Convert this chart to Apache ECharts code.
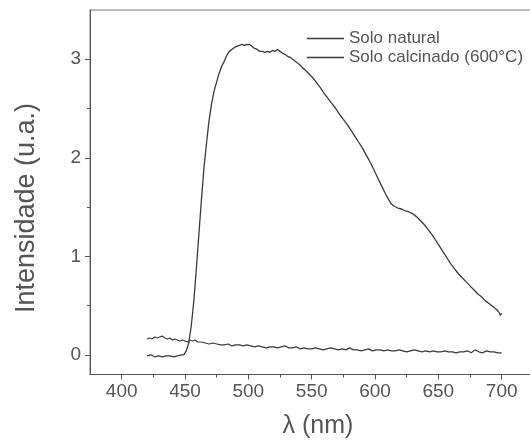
<!DOCTYPE html>
<html>
<head>
<meta charset="utf-8" />
<script src="https://cdn.jsdelivr.net/npm/echarts@6/dist/echarts.min.js"></script>
<style>
  html, body { margin: 0; padding: 0; background: #fff; }
  #chart { width: 530px; height: 444px; }
</style>
</head>
<body>
<div id="chart"></div>
<script>
// Solo calcinado (600°C)
const calcWl = [420, 423, 426, 429, 432, 435, 438, 441, 444, 447, 449, 451, 453, 455, 457, 459, 461, 463, 465, 467, 469, 471, 473, 475, 477, 479, 481, 483, 485, 487, 489, 491, 493, 495, 497, 499, 501, 503, 505, 507, 509, 511, 513, 515, 517, 519, 521, 523, 525, 527, 529, 531, 533, 535, 537, 539, 541, 543, 545, 548, 551, 554, 557, 560, 563, 566, 569, 572, 575, 578, 581, 584, 587, 590, 593, 596, 599, 602, 605, 608, 611, 613, 615, 618, 621, 624, 627, 630, 633, 636, 639, 642, 645, 648, 651, 654, 657, 660, 663, 666, 669, 672, 675, 678, 681, 684, 687, 690, 693, 696, 698, 699, 700];
const calcInt = [-0.01, 0.0, -0.02, -0.01, -0.02, -0.01, -0.01, -0.02, -0.01, 0.0, 0.0, 0.04, 0.12, 0.30, 0.55, 0.88, 1.23, 1.58, 1.90, 2.15, 2.38, 2.55, 2.68, 2.77, 2.86, 2.93, 2.98, 3.04, 3.08, 3.10, 3.12, 3.13, 3.14, 3.15, 3.14, 3.15, 3.15, 3.13, 3.11, 3.10, 3.08, 3.08, 3.07, 3.08, 3.07, 3.09, 3.08, 3.10, 3.08, 3.06, 3.05, 3.03, 3.02, 3.00, 2.98, 2.96, 2.94, 2.91, 2.89, 2.85, 2.81, 2.76, 2.71, 2.65, 2.60, 2.55, 2.50, 2.44, 2.39, 2.34, 2.28, 2.22, 2.16, 2.10, 2.03, 1.96, 1.88, 1.80, 1.72, 1.64, 1.57, 1.53, 1.51, 1.49, 1.48, 1.46, 1.45, 1.43, 1.40, 1.36, 1.32, 1.27, 1.22, 1.16, 1.10, 1.04, 0.98, 0.92, 0.87, 0.82, 0.78, 0.74, 0.70, 0.66, 0.62, 0.59, 0.55, 0.52, 0.49, 0.46, 0.43, 0.40, 0.42];

// Solo natural
const natWl = [420, 422, 424, 426, 428, 430, 432, 434, 436, 438, 440, 442, 444, 446, 448, 450, 452, 454, 456, 458, 460, 463, 466, 469, 472, 475, 478, 481, 484, 487, 490, 493, 496, 499, 502, 505, 508, 511, 514, 517, 520, 523, 526, 529, 532, 535, 538, 541, 544, 547, 550, 553, 556, 559, 562, 565, 568, 571, 574, 577, 580, 583, 586, 589, 592, 595, 598, 601, 604, 607, 610, 613, 616, 619, 622, 625, 628, 631, 634, 637, 640, 643, 646, 649, 652, 655, 658, 661, 664, 667, 670, 673, 676, 679, 682, 685, 688, 691, 694, 697, 700];
const natInt = [0.16, 0.17, 0.16, 0.18, 0.17, 0.18, 0.19, 0.17, 0.16, 0.17, 0.15, 0.16, 0.15, 0.14, 0.15, 0.14, 0.13, 0.15, 0.14, 0.15, 0.13, 0.13, 0.12, 0.11, 0.12, 0.11, 0.10, 0.10, 0.11, 0.09, 0.10, 0.10, 0.09, 0.10, 0.09, 0.08, 0.09, 0.08, 0.07, 0.08, 0.08, 0.07, 0.08, 0.09, 0.07, 0.07, 0.08, 0.06, 0.07, 0.06, 0.06, 0.07, 0.06, 0.05, 0.06, 0.07, 0.06, 0.05, 0.06, 0.05, 0.07, 0.05, 0.05, 0.04, 0.05, 0.06, 0.04, 0.05, 0.05, 0.04, 0.05, 0.04, 0.04, 0.05, 0.04, 0.03, 0.04, 0.05, 0.04, 0.03, 0.04, 0.03, 0.04, 0.03, 0.03, 0.04, 0.03, 0.03, 0.02, 0.03, 0.03, 0.04, 0.02, 0.05, 0.03, 0.02, 0.04, 0.03, 0.03, 0.02, 0.02];

const xTicks = [400, 450, 500, 550, 600, 650, 700];
const xMinorTicks = [425, 475, 525, 575, 625, 675];
const yTicks = [0, 1, 2, 3];
const yMinorTicks = [0.5, 1.5, 2.5];

const ink = '#3a3a3a';
const textColor = '#555';
const font = 'Liberation Sans, Arial, sans-serif';

const zip = (xs, ys) => xs.map((x, i) => [x, ys[i]]);

const chart = echarts.init(document.getElementById('chart'), null, { renderer: 'canvas' });

const option = {
  backgroundColor: '#fff',
  animation: false,
  grid: {
    left: 90, top: 10, width: 456, height: 364.5,
    outerBoundsMode: 'none', containLabel: false,
    show: true, borderColor: '#777', borderWidth: 1, backgroundColor: 'transparent'
  },
  legend: {
    orient: 'vertical',
    left: 302, top: 25,
    itemWidth: 37, itemHeight: 1.5, itemGap: 2,
    icon: 'rect',
    textStyle: { fontFamily: font, fontSize: 17, color: textColor, lineHeight: 17 },
    data: ['Solo natural', 'Solo calcinado (600°C)']
  },
  xAxis: [
    {
      type: 'value', min: 375, max: 735,
      axisLine: { show: true, onZero: false, lineStyle: { color: '#555', width: 1 } },
      axisTick: { show: true, length: 5, customValues: xTicks, lineStyle: { color: '#555' } },
      axisLabel: { customValues: xTicks, fontFamily: font, fontSize: 19, color: textColor, margin: 8 },
      splitLine: { show: false },
      name: 'λ (nm)', nameLocation: 'middle', nameGap: 39,
      nameTextStyle: { fontFamily: font, fontSize: 25, color: textColor }
    },
    {
      type: 'value', min: 375, max: 735, position: 'bottom',
      axisLine: { show: false, onZero: false },
      axisTick: { show: true, length: 3, customValues: xMinorTicks, lineStyle: { color: '#555' } },
      axisLabel: { show: false },
      splitLine: { show: false }
    }
  ],
  yAxis: [
    {
      type: 'value', min: -0.2, max: 3.5,
      axisLine: { show: true, onZero: false, lineStyle: { color: '#555', width: 1 } },
      axisTick: { show: true, length: 5, customValues: yTicks, lineStyle: { color: '#555' } },
      axisLabel: { customValues: yTicks, fontFamily: font, fontSize: 19, color: textColor, margin: 9 },
      splitLine: { show: false }
    },
    {
      type: 'value', min: -0.2, max: 3.5, position: 'left',
      axisLine: { show: false, onZero: false },
      axisTick: { show: true, length: 3, customValues: yMinorTicks, lineStyle: { color: '#555' } },
      axisLabel: { show: false },
      splitLine: { show: false }
    }
  ],
  graphic: [
    {
      type: 'text',
      x: 27, y: 208, rotation: Math.PI / 2,
      style: {
        text: 'Intensidade (u.a.)',
        fontFamily: font, fontSize: 27, fill: textColor,
        align: 'center', verticalAlign: 'middle'
      }
    }
  ],
  series: [
    {
      name: 'Solo natural', type: 'line', symbol: 'none',
      data: zip(natWl, natInt),
      lineStyle: { color: ink, width: 1.2 }, itemStyle: { color: ink }
    },
    {
      name: 'Solo calcinado (600°C)', type: 'line', symbol: 'none',
      data: zip(calcWl, calcInt),
      lineStyle: { color: ink, width: 1.3 }, itemStyle: { color: ink }
    }
  ]
};

chart.setOption(option);
</script>
</body>
</html>
